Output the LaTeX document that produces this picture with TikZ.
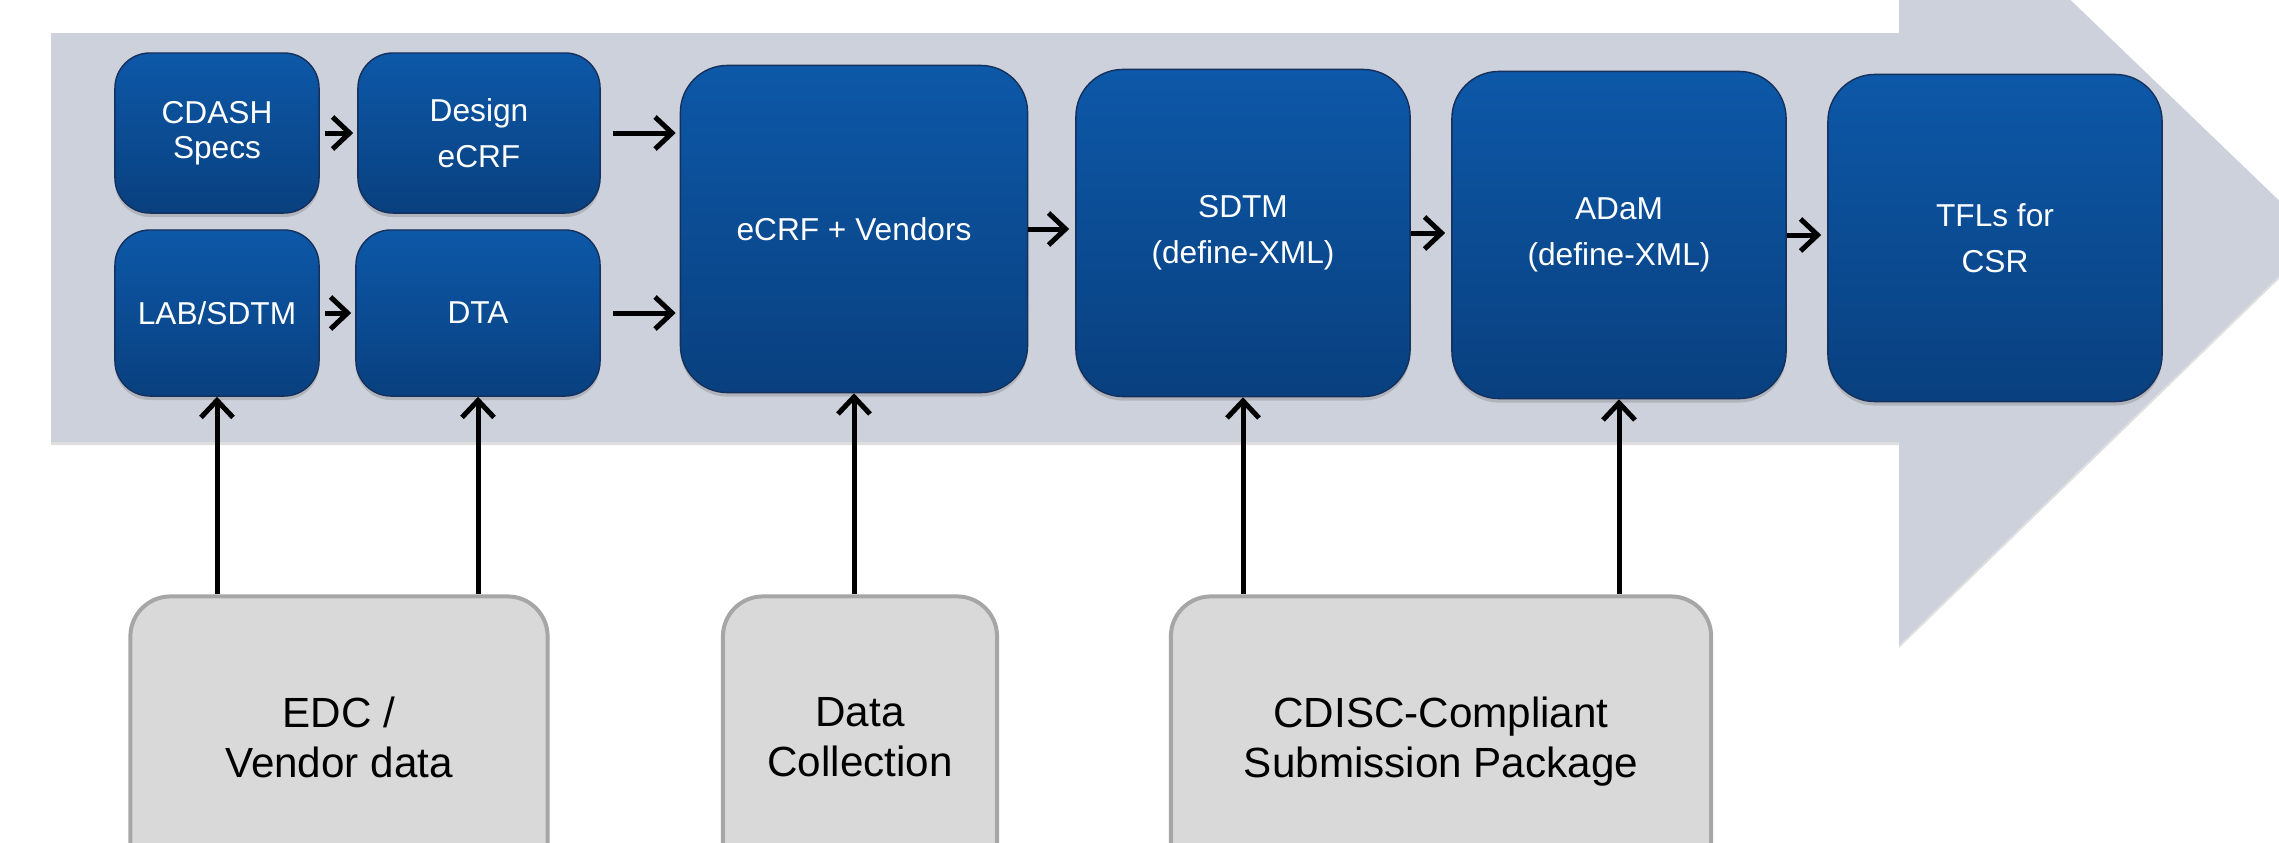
\documentclass[tikz,border=0pt]{standalone}
\usepackage{fontspec}
\setmainfont{Liberation Sans}
\usetikzlibrary{arrows.meta,shadows}

\definecolor{bandg}{RGB}{204,209,220}
\definecolor{blueu}{RGB}{13,88,168}
\definecolor{blued}{RGB}{9,64,127}
\definecolor{blueb}{RGB}{22,48,92}
\definecolor{greyf}{RGB}{217,217,217}
\definecolor{greyb}{RGB}{166,166,166}

\tikzset{
  bluebox/.style={rounded corners=0.35cm, draw=blueb, top color=blueu, bottom color=blued,
    text=white, align=center, inner sep=0pt, font=\fontsize{9}{13}\selectfont,
    drop shadow={shadow xshift=0pt, shadow yshift=-0.04cm, opacity=0.35}},
  bigbox/.style={bluebox, rounded corners=0.47cm, minimum width=3.34cm, minimum height=3.27cm},
  greybox/.style={rounded corners=0.4cm, draw=greyb, fill=greyf, line width=0.04cm,
    align=center, inner sep=0pt, minimum height=3.03cm, text depth=0.22cm,
    font=\fontsize{12}{14.2}\selectfont},
  arr/.style={line width=0.05cm, -{Straight Barb[length=0.17cm,width=0.32cm]}}
}

\begin{document}
\begin{tikzpicture}[x=0.01cm, y=-0.01cm]
    \useasboundingbox (0,0) rectangle (2279,842);
    \clip (0,0) rectangle (2279,842);
    \fill[bandg, drop shadow={shadow xshift=0cm, shadow yshift=-0.03cm, opacity=0.25}]
        (51,33) -- (1899,33) -- (1899,-165) -- (2318,238) -- (1899,645) -- (1899,442) -- (51,442) -- cycle;

    \node[bluebox, minimum width=2.04cm, minimum height=1.60cm, font=\fontsize{9}{10}\selectfont] (cdash) at (217,133) {CDASH\\Specs};
    \node[bluebox, minimum width=2.42cm, minimum height=1.60cm] (design) at (479,133) {Design\\eCRF};
    \node[bluebox, minimum width=2.04cm, minimum height=1.66cm] (lab) at (217,313) {LAB/SDTM};
    \node[bluebox, minimum width=2.44cm, minimum height=1.66cm] (dta) at (478,313) {DTA};
    \node[bigbox, minimum width=3.47cm] (ecrf) at (854,229) {eCRF + Vendors};
    \node[bigbox] (sdtm) at (1243,233) {SDTM\\(define-XML)};
    \node[bigbox] (adam) at (1619,235) {ADaM\\(define-XML)};
    \node[bigbox] (tfl) at (1995,238) {TFLs for\\CSR};

    \node[greybox, minimum width=4.17cm] (edc) at (339,748) {EDC /\\Vendor data};
    \node[greybox, minimum width=2.74cm] (dcol) at (860,748) {Data\\Collection};
    \node[greybox, minimum width=5.40cm] (cdisc) at (1441,748) {CDISC-Compliant\\Submission Package};

    \draw[arr, shorten <=0.05cm, shorten >=0.04cm] (cdash) -- (design);
    \draw[arr, shorten <=0.05cm, shorten >=0.04cm] (lab) -- (dta);
    \draw[arr, shorten <=0.12cm, shorten >=0.04cm] (design.east) -- (design.east -| ecrf.west);
    \draw[arr, shorten <=0.12cm, shorten >=0.04cm] (dta.east) -- (dta.east -| ecrf.west);
    \foreach \a/\b in {ecrf/sdtm, sdtm/adam, adam/tfl}
        \draw[arr, shorten >=0.06cm] (\a.east) -- (\a.east -| \b.west);
    \foreach \a/\b in {edc/lab, edc/dta, dcol/ecrf, cdisc/sdtm, cdisc/adam}
        \draw[arr] (\b.south |- \a.north) -- (\b.south);
\end{tikzpicture}
\end{document}
